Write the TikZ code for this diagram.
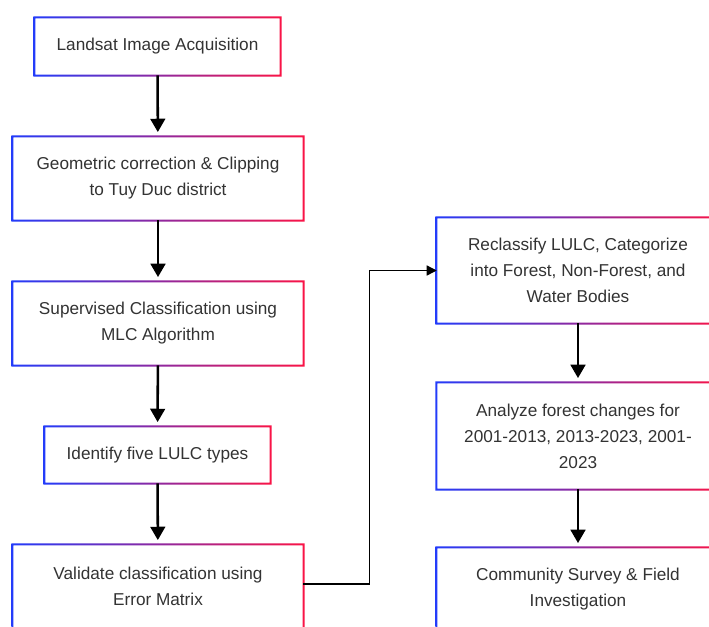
\documentclass[tikz,border=0pt]{standalone}
\usepackage{fontspec}
\setmainfont{Liberation Sans}
\usepackage{tikz}
\usetikzlibrary{arrows.meta}
\definecolor{edgeblue}{RGB}{35,60,250}
\definecolor{edgered}{RGB}{250,20,70}
\definecolor{txt}{RGB}{51,51,51}
\begin{document}
\begin{tikzpicture}[x=0.75pt,y=-0.75pt]
\tikzstyle{stage}=[fill=white,text=txt,align=center,inner sep=0pt,font=\fontsize{12.9pt}{19.5pt}\selectfont];
\tikzstyle{dir}=[-{Triangle[width=11pt,length=10pt]},line width=1.9pt,shorten >=3.5pt];
\tikzstyle{link}=[-{Triangle[width=7.5pt,length=7.5pt]},line width=1.1pt];

\useasboundingbox [fill=white] (0,0) rectangle (709,626);

\node [stage,minimum width=183.75pt,minimum height=42.75pt] (v1) at (157.5,46.5) {Landsat Image Acquisition};
\node [stage,minimum width=217.5pt,minimum height=62.25pt] (v2) at (158,178.5) {Geometric correction \& Clipping\\to Tuy Duc district};
\node [stage,minimum width=217.5pt,minimum height=62.25pt] (v3) at (158,323.5) {Supervised Classification using\\MLC Algorithm};
\node [stage,minimum width=168.75pt,minimum height=42pt] (v4) at (157.5,455) {Identify five LULC types};
\node [stage,minimum width=217.5pt,minimum height=62.25pt] (v5) at (158,586.5) {Validate classification using\\Error Matrix};
\node [stage,minimum width=211.5pt,minimum height=78.75pt] (v6) at (578,270.5) {Reclassify LULC, Categorize\\into Forest, Non-Forest, and\\Water Bodies};
\node [stage,minimum width=211.5pt,minimum height=79.5pt] (v7) at (578,436) {Analyze forest changes for\\2001-2013, 2013-2023, 2001-\\2023};
\node [stage,minimum width=211.5pt,minimum height=62.25pt] (v8) at (578,589.5) {Community Survey \& Field\\Investigation};

% blue to red frames
\foreach \n in {v1,v2,v3,v4,v5,v6,v7,v8}
  \shade [left color=edgeblue,right color=edgered,even odd rule]
    ([xshift=-1.1pt,yshift=-1.1pt]\n.south west) rectangle ([xshift=1.1pt,yshift=1.1pt]\n.north east)
    ([xshift=0.4pt,yshift=0.4pt]\n.south west) rectangle ([xshift=-0.4pt,yshift=-0.4pt]\n.north east);

\draw [dir] (v1) edge (v2);
\draw [dir] (v2) edge (v3);
\draw [dir] (v3) edge (v4);
\draw [dir] (v4) edge (v5);
\draw [dir] (v6) edge (v7);
\draw [dir] (v7) edge (v8);
\draw [link] ([yshift=2pt]v5.east) -- ++(66,0) |- (v6.west);
\end{tikzpicture}
\end{document}
